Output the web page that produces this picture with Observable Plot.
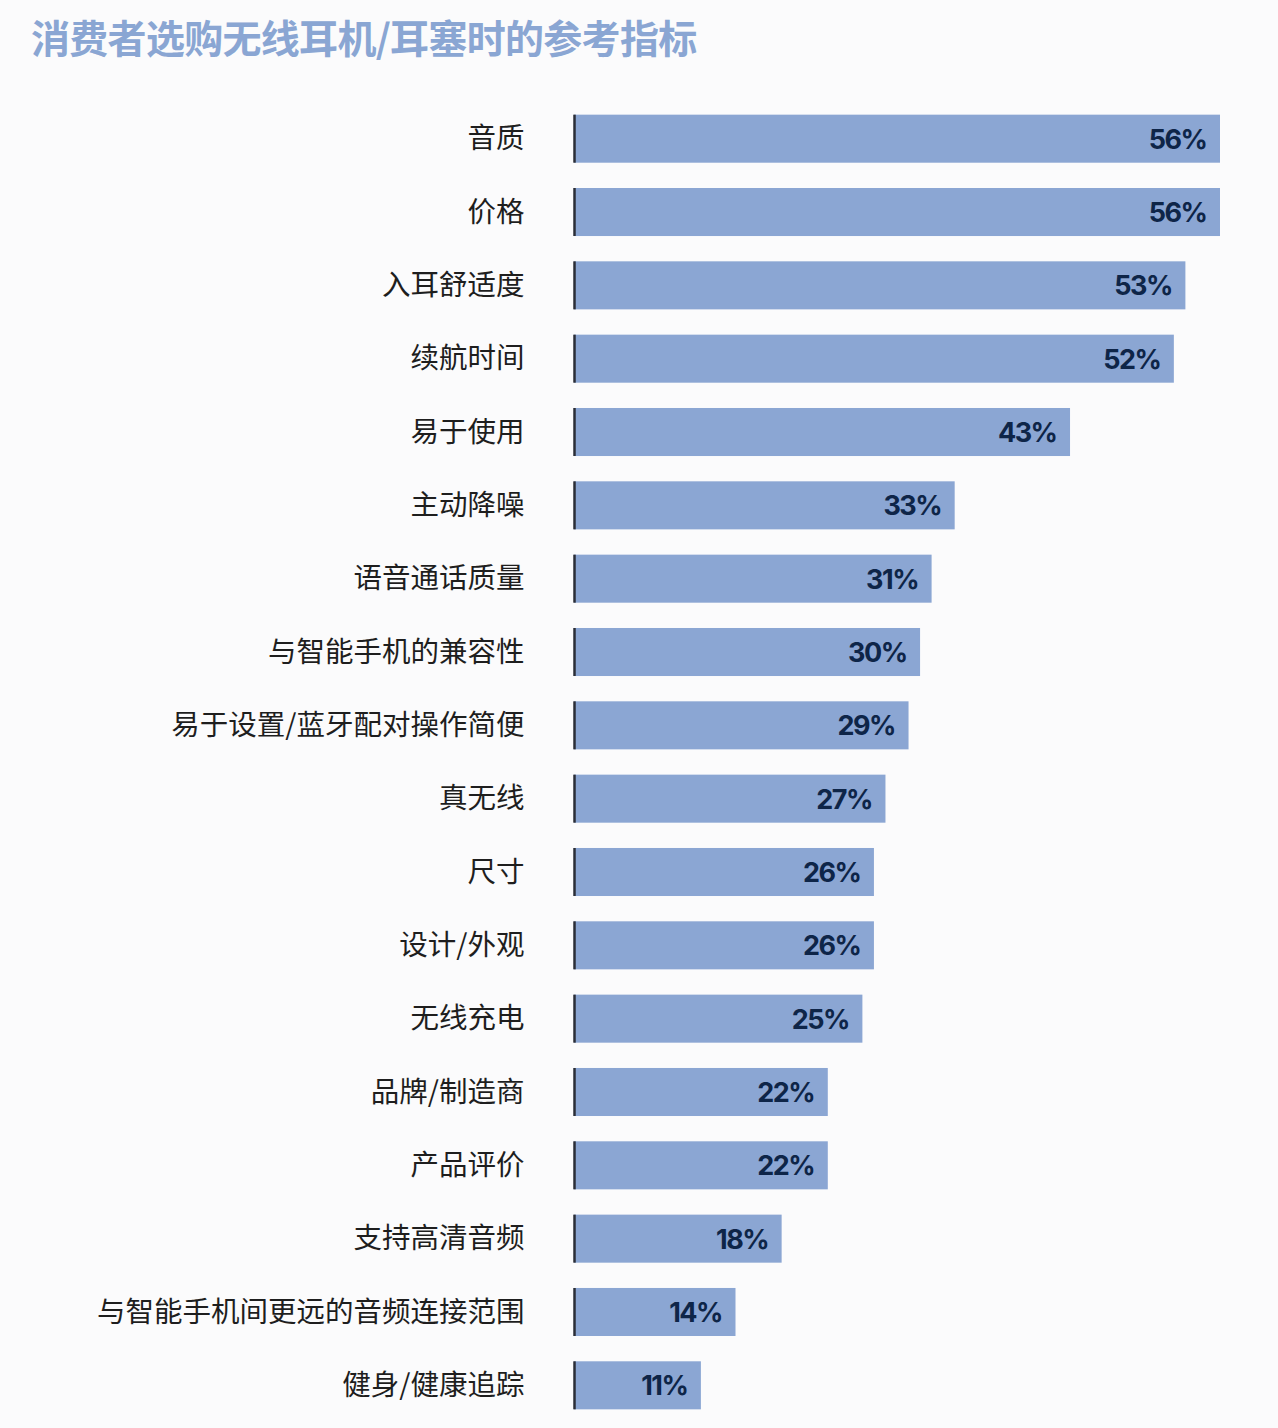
<!DOCTYPE html>
<html><head><meta charset="utf-8">
<script src="https://cdn.jsdelivr.net/npm/d3@7"></script>
<script src="https://cdn.jsdelivr.net/npm/@observablehq/plot@0.6"></script>
<style>
body{margin:0;background:#fbfbfc;font-family:"Noto Sans CJK SC",sans-serif;}
#title{height:80px;box-sizing:border-box;padding:11px 0 0 31px;font-size:39px;font-weight:700;color:#8aa6d3;line-height:50px;letter-spacing:-0.7px;}
#chart svg{display:block;background:transparent;}
#chart g[aria-label="text"] text{letter-spacing:-1.5px;}
</style></head>
<body>
<div id="title">消费者选购无线耳机/耳塞时的参考指标</div>
<div id="chart"></div>
<script>
const categories = ["音质","价格","入耳舒适度","续航时间","易于使用","主动降噪","语音通话质量","与智能手机的兼容性","易于设置/蓝牙配对操作简便","真无线","尺寸","设计/外观","无线充电","品牌/制造商","产品评价","支持高清音频","与智能手机间更远的音频连接范围","健身/健康追踪"];
const values = [56,56,53,52,43,33,31,30,29,27,26,26,25,22,22,18,14,11];
const data = categories.map((c,i)=>({label:c, value:values[i]}));

const chart = Plot.plot({
  width: 1278,
  height: 1344,
  marginLeft: 574,
  marginRight: 58,
  marginTop: 20,
  marginBottom: 0,
  style: {background: "transparent", fontFamily: "\"Noto Sans CJK SC\", sans-serif"},
  x: {domain: [0, 56], axis: null},
  y: {domain: categories, paddingInner: 0.345, paddingOuter: 0.2, round: false, label: null},
  marks: [
    Plot.barX(data, {x: "value", y: "label", fill: "#8ba6d3"}),
    Plot.tickX(data, {x: 0, y: "label", stroke: "#2a2d36", strokeWidth: 2.5}),
    Plot.text(data, {x: "value", y: "label", text: d => d.value + "%", textAnchor: "end", dx: -14, dy: 1,
      fill: "#0e2548", fontSize: 27, fontWeight: 700, fontFamily: "Inter, sans-serif"}),
    Plot.axisY({tickSize: 0, tickPadding: 50, fontSize: 28.5, fill: "#1e1e1e", label: null})
  ]
});
document.getElementById("chart").appendChild(chart);
</script>
</body></html>
